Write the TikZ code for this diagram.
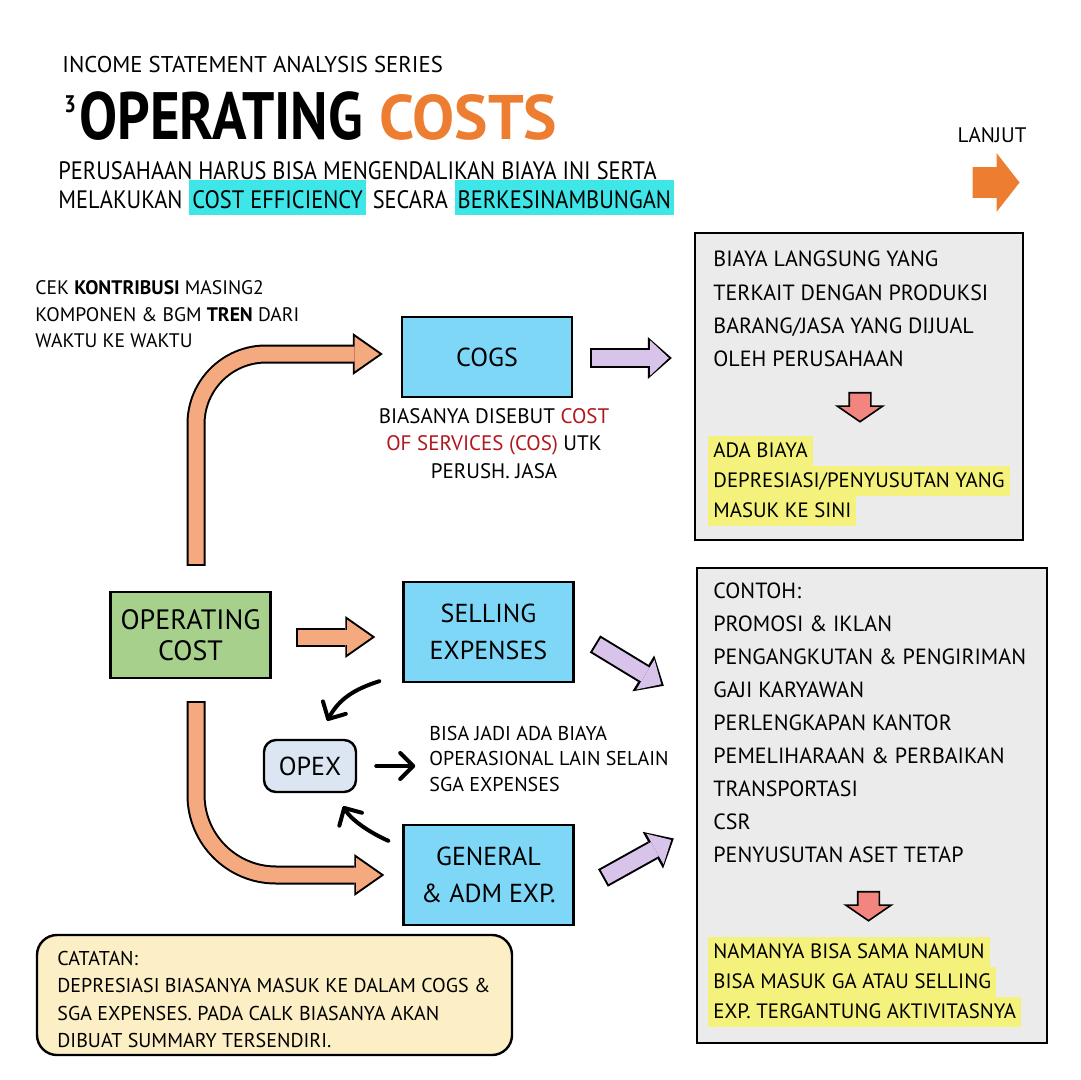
\documentclass[tikz,border=0pt]{standalone}
\usepackage{fontspec}
\setmainfont{PT Sans}
\setsansfont{PT Sans}
\newfontfamily\titlefont[FakeStretch=0.85]{PT Sans}
\newfontfamily\narrowfont[FakeStretch=0.89]{PT Sans}
\usepackage{tikz}
\usetikzlibrary{arrows.meta, positioning, calc, shapes.arrows}
\tikzset{every node/.style={font=\sffamily}}
\usepackage{xcolor}
\definecolor{skyblue}{HTML}{7FD7F7}
\definecolor{leafgreen}{HTML}{A8D08D}
\definecolor{opexblue}{HTML}{DCE6F2}
\definecolor{panelgrey}{HTML}{EBEBEB}
\definecolor{notecream}{HTML}{FCEFC6}
\definecolor{arrorange}{HTML}{F4A97E}
\definecolor{costorange}{HTML}{ED7D31}
\definecolor{lilac}{HTML}{D8C3EA}
\definecolor{pinkred}{HTML}{F2857F}
\definecolor{hlcyan}{HTML}{3EE6E8}
\definecolor{hlyellow}{HTML}{F4F27C}
\definecolor{darkred}{HTML}{B0181E}

\begin{document}
\begin{tikzpicture}[x=0.5pt, y=-0.5pt,
    bluebox/.style={draw, line width=1.2pt, fill=skyblue, minimum width=85pt, align=center, font=\sffamily\fontsize{13}{18.5}\selectfont},
    greybox/.style={draw, line width=1.2pt, fill=panelgrey},
    linetxt/.style={anchor=base west, inner sep=0, font=\sffamily\fontsize{11}{13}\selectfont},
    hlline/.style={linetxt, font=\sffamily\fontsize{10.4}{12}\selectfont, fill=hlyellow, inner xsep=2.5pt, inner ysep=1.25pt, text height=9.5pt, text depth=3pt},
    subtxt/.style={anchor=base west, inner sep=0, font=\narrowfont\fontsize{12.6}{14}\selectfont},
    cyanmark/.style={fill=hlcyan, inner xsep=1.5pt, inner ysep=1.5pt, text height=13pt, text depth=1.5pt},
    smalltxt/.style={anchor=base west, inner sep=0, font=\sffamily\fontsize{10}{12}\selectfont},
    pinkarrow/.style={single arrow, draw, line width=0.8pt, fill=pinkred, rotate=-90, minimum height=13.5pt, inner sep=5pt, single arrow head extend=6pt, single arrow tip angle=111},
    fatorange/.style={draw=arrorange, line width=7.5pt, -{Triangle[width=17.2pt,length=12.3pt,line width=0pt]}, shorten >=1.75pt,
      preaction={draw=black, line width=9.5pt, shorten >=0pt, shorten <=-1pt, -{Triangle[width=21pt,length=15pt,line width=0pt]}}},
    fatpurple/.style={draw=lilac, line width=8pt, -{Triangle[width=17.5pt,length=9.3pt,line width=0pt]}, shorten >=1.5pt,
      preaction={draw=black, line width=10pt, shorten >=0pt, shorten <=-1pt, -{Triangle[width=21pt,length=12pt,line width=0pt]}}},
    blackarrow/.style={line width=2pt, line cap=round, -{Straight Barb[length=6.5pt, width=13pt, round]}}]
  \fill[white] (0,0) rectangle (1080,1080);
  \useasboundingbox (0,0) rectangle (1080,1080);

  % heading
  \node[anchor=base west, inner sep=0, font=\sffamily\fontsize{11.4}{13}\selectfont] (series) at (62,73) {INCOME STATEMENT ANALYSIS SERIES};
  \node[anchor=base west, inner sep=0, font=\titlefont\bfseries\fontsize{12}{12}\selectfont] (num) at (64,113) {3};
  \node[anchor=base west, inner sep=0, font=\titlefont\bfseries\fontsize{33.5}{36}\selectfont] (ttl) at (79,140) {OPERATING};
  \node[anchor=base west, inner sep=0, text=costorange, font=\sffamily\bfseries\fontsize{31.5}{33}\selectfont] (costs) at (379,140) {COSTS};
  \node[subtxt] (sub1) at (58,180) {PERUSAHAAN HARUS BISA MENGENDALIKAN BIAYA INI SERTA};
  \node[subtxt] (sub2a) at (58,209) {MELAKUKAN};
  \node[subtxt, cyanmark, base right=3pt of sub2a] (sub2b) {COST EFFICIENCY};
  \node[subtxt, base right=3pt of sub2b] (sub2c) {SECARA};
  \node[subtxt, cyanmark, base right=3pt of sub2c] (sub2d) {BERKESINAMBUNGAN};
  \node[inner sep=0, font=\sffamily\fontsize{10.5}{12}\selectfont] (lanjut) at (992,135) {LANJUT};
  \node[single arrow, fill=costorange, minimum height=23.5pt, inner sep=7.5pt, single arrow head extend=7pt, single arrow tip angle=104] (next) at (990,182.5) {};

  % left note
  \node[smalltxt, font=\sffamily\fontsize{9.8}{12}\selectfont] (cek1) at (35,295) {CEK \textbf{KONTRIBUSI} MASING2};
  \node[smalltxt, font=\sffamily\fontsize{9.8}{12}\selectfont] (cek2) at (35,321.5) {KOMPONEN \& BGM \textbf{TREN} DARI};
  \node[smalltxt, font=\sffamily\fontsize{9.8}{12}\selectfont] (cek3) at (35,348) {WAKTU KE WAKTU};

  % boxes
  \node[bluebox, minimum height=40pt] (cogs) at (487,357) {COGS};
  \node[bluebox, minimum height=50pt] (sell) at (488.5,632) {SELLING\\EXPENSES};
  \node[bluebox, minimum height=50pt] (gen) at (488.5,875) {GENERAL\\\& ADM EXP.};
  \node[draw, line width=1.2pt, fill=leafgreen, minimum width=80pt, minimum height=43pt, align=center, font=\sffamily\fontsize{14}{15.5}\selectfont] (opcost) at (190.5,635) {OPERATING\\COST};
  \node[draw, line width=1.2pt, fill=opexblue, rounded corners=6pt, minimum width=46pt, minimum height=26pt, font=\sffamily\fontsize{13}{15}\selectfont] (opex) at (310,766) {OPEX};

  \node[anchor=base, inner sep=0, font=\sffamily\fontsize{10.5}{12}\selectfont] (cos1) at (494,423) {BIASANYA DISEBUT \textcolor{darkred}{COST}};
  \node[anchor=base, inner sep=0, font=\sffamily\fontsize{10.5}{12}\selectfont] (cos2) at (494,450.5) {\textcolor{darkred}{OF SERVICES (COS)} UTK};
  \node[anchor=base, inner sep=0, font=\sffamily\fontsize{10.5}{12}\selectfont] (cos3) at (494,478) {PERUSH. JASA};

  \foreach \t [count=\i from 0] in {BISA JADI ADA BIAYA, OPERASIONAL LAIN SELAIN, SGA EXPENSES}
    \node[smalltxt] (bisa\i) at (429,{740+25.5*\i}) {\t};

  % right panels
  \node[greybox, minimum width=164pt, minimum height=153.5pt] (topbox) at (859,386.5) {};
  \node[greybox, minimum width=175pt, minimum height=237.5pt] (botbox) at (872,805.5) {};
  \foreach \t [count=\i from 0] in {BIAYA LANGSUNG YANG, TERKAIT DENGAN PRODUKSI, BARANG/JASA YANG DIJUAL, OLEH PERUSAHAAN}
    \node[linetxt] (top\i) at (713,{267+33.3*\i}) {\t};
  \node[pinkarrow] (down1) at (860,403.5) {};
  \foreach \t [count=\i from 0] in {ADA BIAYA, DEPRESIASI/PENYUSUTAN YANG, MASUK KE SINI}
    \node[hlline] (tophl\i) at (708,{457+30*\i}) {\t};
  \foreach \t [count=\i from 0] in {CONTOH:, PROMOSI \& IKLAN, PENGANGKUTAN \& PENGIRIMAN, GAJI KARYAWAN, PERLENGKAPAN KANTOR, PEMELIHARAAN \& PERBAIKAN, TRANSPORTASI, CSR, PENYUSUTAN ASET TETAP}
    \node[linetxt] (bot\i) at (713,{598+33*\i}) {\t};
  \node[pinkarrow] (down2) at (868.5,902.5) {};
  \foreach \t [count=\i from 0] in {NAMANYA BISA SAMA NAMUN, BISA MASUK GA ATAU SELLING, EXP. TERGANTUNG AKTIVITASNYA}
    \node[hlline] (bothl\i) at (708,{958+30*\i}) {\t};

  % catatan
  \node[draw, line width=1.2pt, fill=notecream, rounded corners=10pt, minimum width=237.5pt, minimum height=60pt] (note) at (274.5,995) {};
  \foreach \t [count=\i from 0] in {CATATAN:, DEPRESIASI BIASANYA MASUK KE DALAM COGS \&, SGA EXPENSES. PADA CALK BIASANYA AKAN, DIBUAT SUMMARY TERSENDIRI.}
    \node[smalltxt] (cat\i) at (57,{965+27.5*\i}) {\t};

  % connectors
  \draw[fatorange, rounded corners=35pt] ($(opcost.north)+(5.5,-27)$) |- ($(cogs.west)+(-18,-3)$);
  \draw[fatorange] ($(opcost.east)+(26,2)$) -- ($(sell.west)+(-27,5)$);
  \draw[fatorange, rounded corners=40pt] ($(opcost.south)+(5.5,24)$) |- ($(gen.west)+(-18,0)$);
  \draw[fatpurple] ($(cogs.east)+(19,1)$) -- ($(cogs.east -| topbox.west)+(-22,1)$);
  \draw[fatpurple] ($(sell.east)+(22,13)$) -- ($(botbox.north west)+(-32,119)$);
  \draw[fatpurple] ($(gen.east)+(30,2)$) -- ($(botbox.west)+(-22,33)$);
  \draw[blackarrow] ($(sell.south west)+(-23,-2)$) .. controls +(-25,8) and +(12,-22) .. ($(opex.north east)+(-30,-18)$);
  \draw[blackarrow] ($(gen.north west)+(-14,17)$) .. controls +(-18,-8) and +(8,14) .. ($(opex.south east)+(-14,13)$);
  \draw[blackarrow] ($(opex.east)+(19,0)$) -- ($(opex.east)+(58,0)$);
\end{tikzpicture}
\end{document}
